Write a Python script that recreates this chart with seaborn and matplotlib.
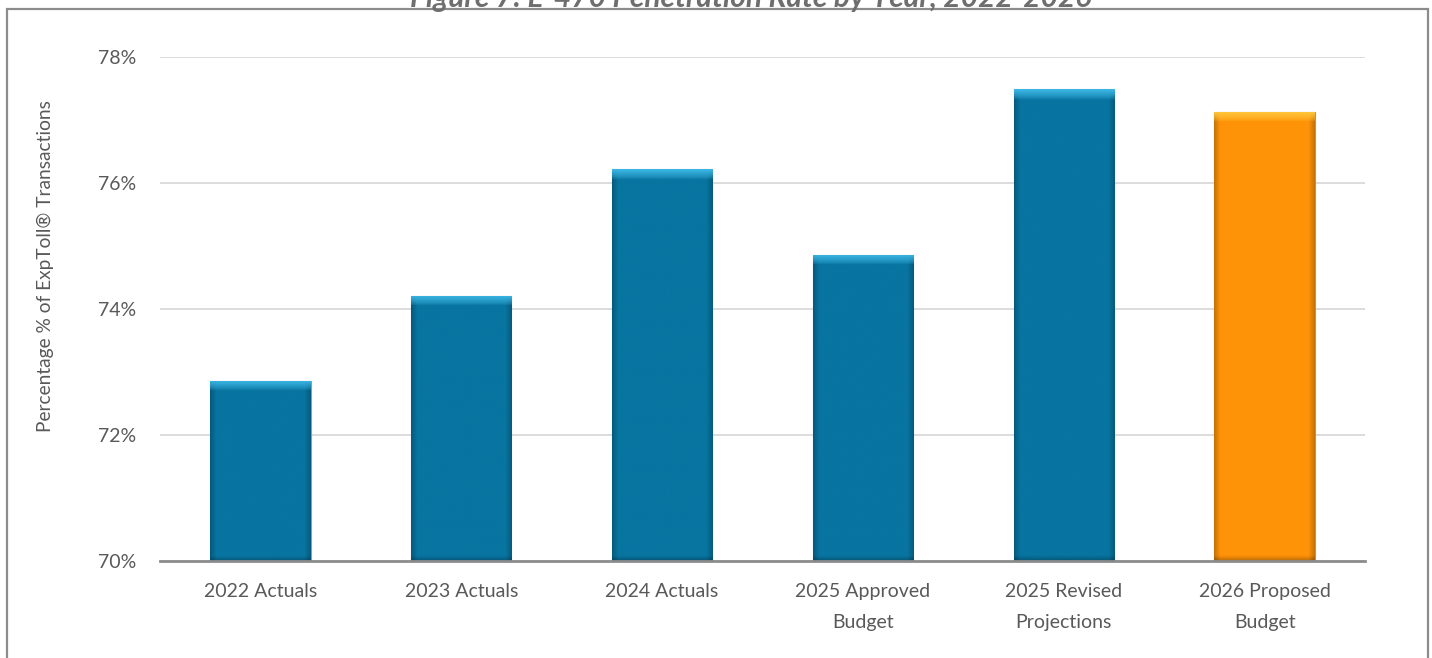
import numpy as np
import pandas as pd
import matplotlib
matplotlib.use("Agg")
import matplotlib.pyplot as plt
import seaborn as sns
from matplotlib.patches import Rectangle
from matplotlib.colors import to_rgb

categories = ["2022 Actuals", "2023 Actuals", "2024 Actuals",
              "2025 Approved\nBudget", "2025 Revised\nProjections", "2026 Proposed\nBudget"]
values = [72.86, 74.21, 76.22, 74.86, 77.49, 77.13]
bar_colors = ["#0874A0", "#0874A0", "#0874A0", "#0874A0", "#0874A0", "#FF9308"]
highlight_colors = ["#3BB6E4", "#3BB6E4", "#3BB6E4", "#3BB6E4", "#3BB6E4", "#FFC83E"]
yticks = [70, 72, 74, 76, 78]
ytick_labels = ["70%", "72%", "74%", "76%", "78%"]
title = "Figure 7: E-470 Penetration Rate by Year, 2022-2026"
ylabel = "Percentage % of ExpToll\u00ae Transactions"

sns.set_theme(style="white")
plt.rcParams['font.family'] = ['Lato', 'DejaVu Sans']

W, H = 1432, 658
fig = plt.figure(figsize=(W / 100, H / 100), dpi=100)
ax = fig.add_axes([160 / W, 1 - 561 / H, (1365 - 160) / W, (561 - 57) / H])

df = pd.DataFrame({"cat": categories, "val": values})
sns.barplot(data=df, x="cat", y="val", hue="cat", palette=bar_colors,
            width=0.5, legend=False, ax=ax, zorder=3, saturation=1)

ax.set_ylim(yticks[0], yticks[-1])
ax.set_yticks(yticks)
ax.set_yticklabels(ytick_labels)
ax.grid(axis="y", color="#D9D9D9", lw=1.3, zorder=0)
ax.set_axisbelow(True)
for s in ["top", "right", "left"]:
    ax.spines[s].set_visible(False)
ax.spines["bottom"].set_color("#8C8C8C")
ax.spines["bottom"].set_linewidth(2)
ax.spines["bottom"].set_zorder(5)
ax.tick_params(axis="both", length=0, colors="#595959", labelsize=14)
ax.tick_params(axis="y", pad=17)
ax.tick_params(axis="x", pad=16)
for t in ax.get_xticklabels():
    t.set_linespacing(1.95)
ax.set_xlabel("")
ax.set_ylabel(ylabel, fontsize=13.8, color="#595959", va="center", ha="center")
ax.yaxis.set_label_coords((45 - 160) / 1205, (561 - 266) / 504)
ax.set_xlim(-0.5, len(categories) - 0.5)

# bevel-like shading clipped to each bar
fig.canvas.draw()
ppu = ax.transData.transform((0, 1))[1] - ax.transData.transform((0, 0))[1]
for patch, base, hi in zip(ax.patches, bar_colors, highlight_colors):
    x0, y0 = patch.get_x(), patch.get_y()
    w, h = patch.get_width(), patch.get_height()
    top = y0 + h
    bottom = yticks[0]
    nx, ny = 120, 400
    xs = np.linspace(0, 1, nx)
    ys = np.linspace(0, 1, ny)  # 0 at top, 1 at bottom
    b = np.array(to_rgb(base))
    hcol = np.array(to_rgb(hi))
    img = np.tile(b, (ny, nx, 1))
    edge = np.clip(1 - np.minimum(xs, 1 - xs) / 0.06, 0, 1)
    img = img * (1 - 0.22 * edge[None, :, None])
    height_px = (top - bottom) * ppu
    ypx = ys * height_px
    band = np.clip(1 - ypx / 10.0, 0, 1) ** 0.7
    img = img * (1 - band[:, None, None]) + hcol[None, None, :] * band[:, None, None]
    dark = np.clip((ypx - (height_px - 5)) / 5.0, 0, 1)
    img = img * (1 - 0.25 * dark[:, None, None])
    im = ax.imshow(img, extent=[x0, x0 + w, bottom, top], aspect="auto",
                   origin="upper", zorder=4, interpolation="bilinear")
    im.set_clip_path(patch)
    patch.set_edgecolor("#9A9A9A")
    patch.set_linewidth(0.8)
ax.set_xlim(-0.5, len(categories) - 0.5)
ax.set_ylim(yticks[0], yticks[-1])

# outer frame and clipped title
fig.add_artist(Rectangle((7 / W, -0.1), (1428 - 7) / W, 1.1 - 9 / H,
                         transform=fig.transFigure, fill=False,
                         ec="#8C8C8C", lw=1.6))
fig.text(751 / W, 1 + 2 / H, title, ha="center", va="center",
         fontsize=21.5, fontweight="bold", fontstyle="italic", color="#6E6E6E")

fig.savefig("out.png", dpi=100)
